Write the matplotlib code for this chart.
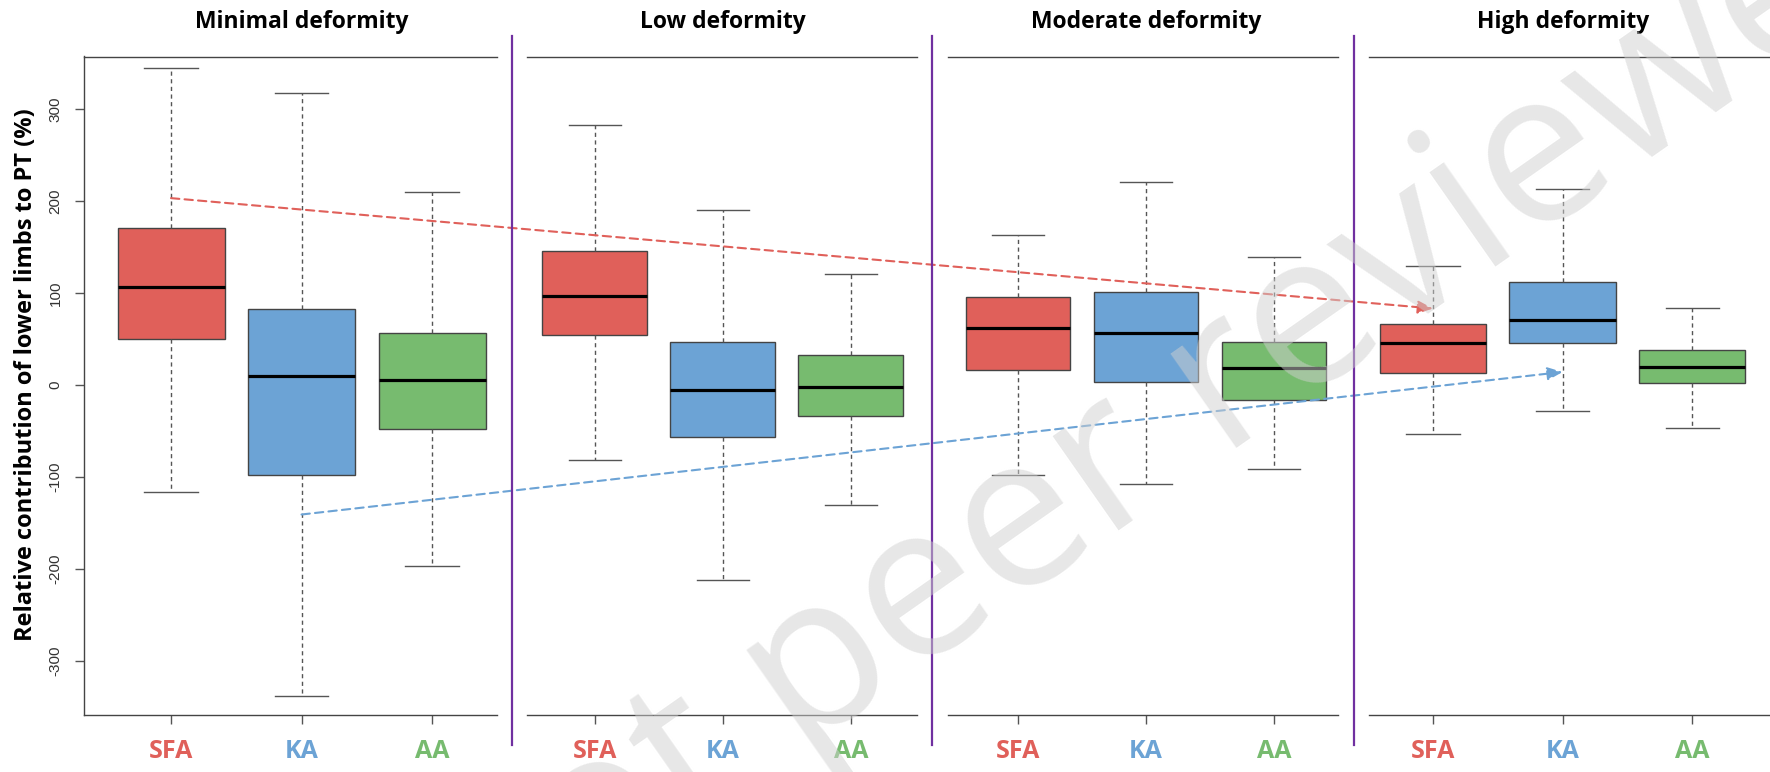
import matplotlib
matplotlib.use("Agg")
import matplotlib.pyplot as plt
from matplotlib.lines import Line2D
from matplotlib.patches import ConnectionPatch

# ---------------- data ----------------
panel_titles = ["Minimal deformity", "Low deformity", "Moderate deformity", "High deformity"]
groups = ["SFA", "KA", "AA"]
group_colors = ["#E0605A", "#6CA3D5", "#77BB6F"]

# per panel: values for SFA, KA, AA
whisker_hi = [[345, 317, 210], [283, 190, 120], [163, 221, 139], [129, 213, 84]]
q3_vals    = [[171, 82, 56],   [145, 47, 32],   [95, 101, 47],   [66, 112, 38]]
medians    = [[106, 10, 5],    [97, -6, -2],    [62, 56, 18],    [46, 70, 19]]
q1_vals    = [[49.5, -98, -48], [54, -57, -34], [16, 3, -17],    [13, 45, 2]]
whisker_lo = [[-117, -338, -197], [-82, -212, -131], [-98, -108, -91], [-53, -28, -47]]

y_ticks = [-300, -200, -100, 0, 100, 200, 300]
y_label = "Relative contribution of lower limbs to PT (%)"

# trend arrows: (start value in first panel, end value in last panel)
red_arrow = (203, 83)     # SFA
blue_arrow = (-141, 14)   # KA

# ---------------- layout ----------------
W, H = 1770, 772
fig = plt.figure(figsize=(W / 100, H / 100), dpi=100)

ax_px = [(84, 497), (527, 917), (948, 1338), (1369, 1770)]
xlims = [(0.333, 3.498), (0.469, 3.516), (0.453, 3.5), (0.506, 3.6)]
ax_top, ax_bot = 56.5, 715
ylim = (-359, 357)

edge = "#444444"
axes = []
for i in range(4):
    l, r = ax_px[i]
    ax = fig.add_axes([l / W, 1 - ax_bot / H, (r - l) / W, (ax_bot - ax_top) / H])
    axes.append(ax)
    stats = []
    for j in range(3):
        stats.append(dict(med=medians[i][j], q1=q1_vals[i][j], q3=q3_vals[i][j],
                          whislo=whisker_lo[i][j], whishi=whisker_hi[i][j], fliers=[]))
    bp = ax.bxp(stats, positions=[1, 2, 3], widths=0.82, capwidths=0.41,
                patch_artist=True, showfliers=False,
                boxprops=dict(edgecolor=edge, linewidth=1.0),
                whiskerprops=dict(color="#555555", linewidth=1.0, linestyle=(0, (3, 2.5))),
                capprops=dict(color="#555555", linewidth=1.0),
                medianprops=dict(color="black", linewidth=2.3, solid_capstyle="butt"))
    for patch, c in zip(bp["boxes"], group_colors):
        patch.set_facecolor(c)
    ax.set_xlim(*xlims[i])
    ax.set_ylim(*ylim)
    ax.spines["right"].set_visible(False)
    for s in ["top", "bottom", "left"]:
        ax.spines[s].set_color(edge)
        ax.spines[s].set_linewidth(1.0)
    ax.set_xticks([1, 2, 3])
    ax.set_xticklabels(groups, fontsize=18, fontweight="bold", family="Open Sans")
    for lbl, c in zip(ax.get_xticklabels(), group_colors):
        lbl.set_color(c)
    ax.tick_params(axis="x", length=6.5, width=1.0, color="#555555", pad=11)
    if i == 0:
        ax.set_yticks(y_ticks)
        ax.set_yticklabels([str(v) for v in y_ticks], rotation=90, va="center",
                           fontsize=11, color="#333333", family="Liberation Sans")
        ax.tick_params(axis="y", length=6.5, width=1.0, color="#555555", pad=9)
    else:
        ax.spines["left"].set_visible(False)
        ax.tick_params(axis="y", left=False, labelleft=False)
    ax.text(2, 1.0524, panel_titles[i], transform=ax.get_xaxis_transform(),
            ha="center", va="center", fontsize=16.5, fontweight="bold", family="Open Sans")

# y label
fig.text(26 / W, 1 - 375 / H, y_label, rotation=90, ha="center", va="center",
         fontsize=17, fontweight="bold", family="Open Sans")

# purple separators
for xp in [512, 932, 1354]:
    fig.add_artist(Line2D([xp / W, xp / W], [1 - 36 / H, 1 - 745 / H],
                          transform=fig.transFigure, color="#7030A0", linewidth=1.6))

# trend arrows
for (y0, y1), xpos, col in [(red_arrow, 1, "#E0605A"), (blue_arrow, 2, "#6CA3D5")]:
    con = ConnectionPatch(xyA=(xpos, y0), coordsA=axes[0].transData,
                          xyB=(xpos, y1), coordsB=axes[3].transData,
                          arrowstyle="-|>,head_length=0.7,head_width=0.3",
                          mutation_scale=13, color=col, linewidth=1.5,
                          linestyle=(0, (4, 2.5)), shrinkA=0, shrinkB=0)
    fig.add_artist(con)

# watermark
fig.text(0.665, 0.455, "Not peer reviewed", rotation=35, fontsize=155,
         color="#d0d0d0", alpha=0.5, ha="center", va="center", zorder=10,
         family="Open Sans")

fig.savefig("out.png", dpi=100)
